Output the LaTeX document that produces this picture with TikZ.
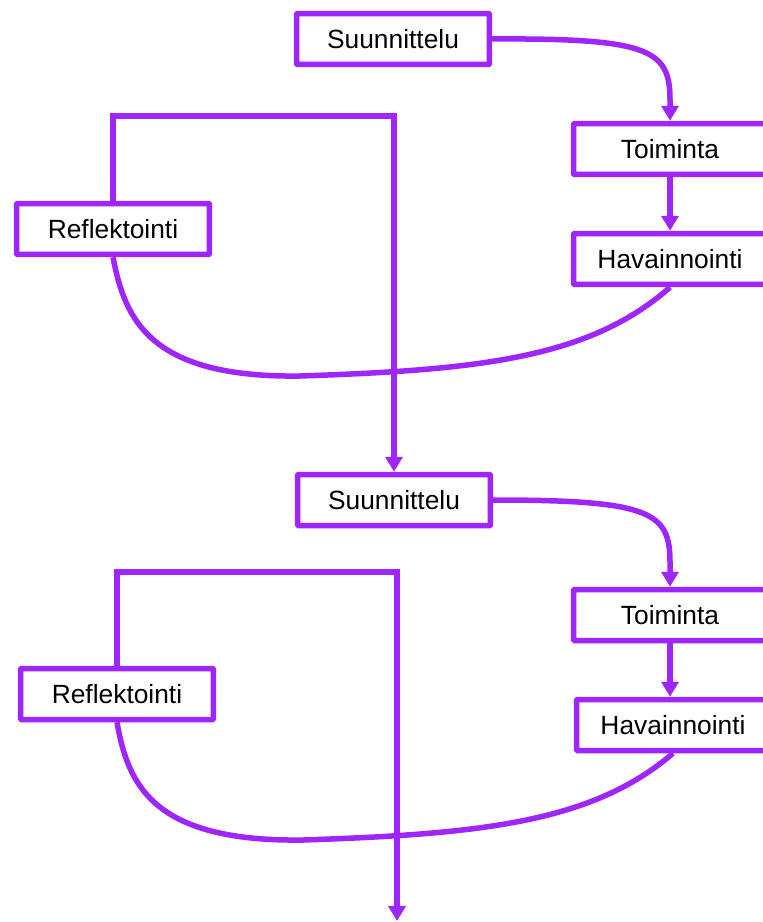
\documentclass[tikz,border=0pt]{standalone}
\usepackage{fontspec}
\setmainfont{Liberation Sans}
\usetikzlibrary{arrows.meta}
\definecolor{cyclepurple}{RGB}{158,38,250}
\tikzset{
  stepbox/.style={draw=cyclepurple, line width=0.11cm, fill=white, rounded corners=0.5pt,
    minimum width=3.86cm, minimum height=1.02cm, inner sep=0pt,
    font=\fontsize{15}{18}\selectfont},
  flow/.style={draw=cyclepurple, line width=0.11cm},
  flowarrow/.style={flow, -{Triangle[width=0.34cm,length=0.3cm]}}
}
\begin{document}
\begin{tikzpicture}[x=0.02cm, y=-0.02cm]
            \useasboundingbox (0,0) rectangle (763,922);
            \clip (0,0) rectangle (763,922);

            \coordinate (corner1) at (394,116);
            \coordinate (corner2) at (397,572);
            \coordinate (bottom) at (397,921);

            \node[stepbox] (plan1) at (393,39) {Suunnittelu};
            \node[stepbox] (act1) at (670,149) {Toiminta};
            \node[stepbox] (obs1) at (670,259) {Havainnointi};
            \node[stepbox] (refl1) at (113,229) {Reflektointi};

            \node[stepbox] (plan2) at (394,500) {Suunnittelu};
            \node[stepbox] (act2) at (670,615) {Toiminta};
            \node[stepbox] (obs2) at (673,725) {Havainnointi};
            \node[stepbox] (refl2) at (117,694) {Reflektointi};

            \draw[flowarrow] (plan1.east) .. controls (650,38) and (670,50) .. (670,100) -- (act1.north);
            \draw[flowarrow] (act1.south) -- (obs1.north);
            \draw[flow] (obs1.south) .. controls (590,358) and (480,370) .. (300,376)
                .. controls (150,378) and (125,320) .. (refl1.south);
            \draw[flowarrow] (refl1.north) |- (corner1) -- (plan2.north);

            \draw[flowarrow] (plan2.east) .. controls (650,500) and (670,512) .. (670,562) -- (act2.north);
            \draw[flowarrow] (act2.south) -- (act2.south |- obs2.north);
            \draw[flow] (obs2.south) .. controls (593,822) and (483,834) .. (303,840)
                .. controls (153,842) and (128,785) .. (refl2.south);
            \draw[flowarrow] (refl2.north) |- (corner2) -- (bottom);
        \end{tikzpicture}
\end{document}
